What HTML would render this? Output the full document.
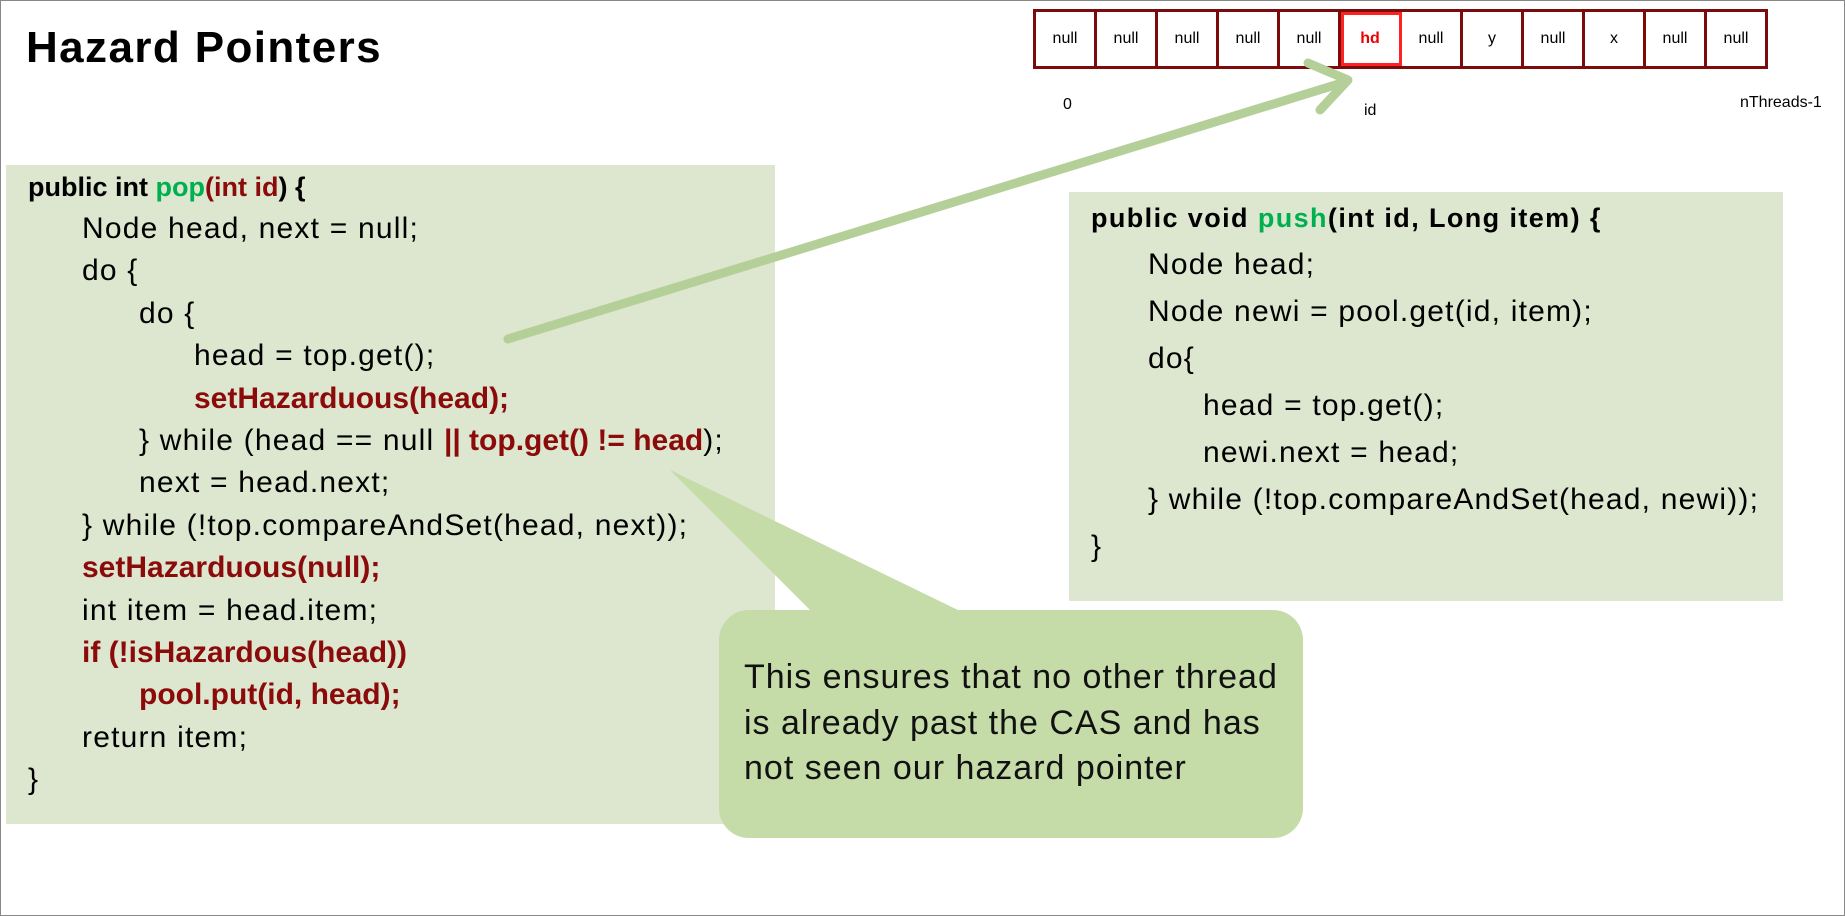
<!DOCTYPE html>
<html><head><style>
body{margin:0;width:1845px;height:916px;position:relative;background:#fff;font-family:"Liberation Sans",sans-serif;overflow:hidden}
.frame{position:absolute;left:0;top:0;width:1843px;height:914px;border:1px solid #888}
.title{position:absolute;left:26px;top:23px;font-size:44px;font-weight:bold;color:#000;letter-spacing:1.4px}
.arr{position:absolute;left:1033px;top:9px;display:flex;border:3px solid #7a0c0c}
.arr div{width:58px;height:54px;border-right:3px solid #7a0c0c;display:flex;align-items:center;justify-content:center;font-size:16px}
.arr div:last-child{border-right:none}
.arr .hd{color:#e00;font-weight:bold;outline:3px solid #f22;outline-offset:-3px}
.lbl{position:absolute;font-size:16px}
.box{position:absolute;background:#dde6cf}
.code{position:absolute;white-space:pre;font-size:30px;letter-spacing:1.2px;color:#000}
.r{color:#8b0b0b;font-weight:bold;letter-spacing:0}
.g{color:#00b050;font-weight:bold;letter-spacing:0}
.b{font-weight:bold;letter-spacing:0}
.hdr{font-size:27px;letter-spacing:0}
.ph span{letter-spacing:1.4px}
.call{position:absolute;left:719px;top:610px;width:584px;height:228px;background:#c5dba8;border-radius:30px}
.ct{position:absolute;left:744px;font-size:34px;letter-spacing:1px;color:#111;white-space:nowrap}
</style></head><body>
<div class="frame"></div>
<div class="title">Hazard Pointers</div>
<div class="arr"><div>null</div><div>null</div><div>null</div><div>null</div><div>null</div><div class="hd">hd</div><div>null</div><div>y</div><div>null</div><div>x</div><div>null</div><div>null</div></div>
<div class="lbl" style="left:1063px;top:96px">0</div>
<div class="lbl" style="left:1364px;top:102px">id</div>
<div class="lbl" style="left:1740px;top:94px">nThreads-1</div>

<div class="box" style="left:6px;top:165px;width:769px;height:659px"></div>
<div class="box" style="left:1069px;top:192px;width:714px;height:409px"></div>

<svg width="1845" height="916" style="position:absolute;left:0;top:0">
<polygon points="670,470 812,612 962,612" fill="#c5dba8"/>
<line x1="508" y1="339" x2="1345" y2="82" stroke="#b5cf98" stroke-width="9" stroke-linecap="round"/>
<polyline points="1308,63 1348,80 1320,110" fill="none" stroke="#b5cf98" stroke-width="9" stroke-linecap="round" stroke-linejoin="round"/>
</svg>
<div class="call"></div>

<div class="code hdr" style="left:28px;top:172px"><span class="b">public int </span><span class="g">pop</span><span class="r">(int id</span><span class="b">) {</span></div>
<div class="code" style="left:82px;top:212px">Node head, next = null;</div>
<div class="code" style="left:82px;top:254px">do {</div>
<div class="code" style="left:139px;top:297px">do {</div>
<div class="code" style="left:194px;top:339px">head = top.get();</div>
<div class="code r" style="left:194px;top:382px">setHazarduous(head);</div>
<div class="code" style="left:139px;top:424px">} while (head == null <span class="r">|| top.get() != head</span>);</div>
<div class="code" style="left:139px;top:466px">next = head.next;</div>
<div class="code" style="left:82px;top:509px">} while (!top.compareAndSet(head, next));</div>
<div class="code r" style="left:82px;top:551px">setHazarduous(null);</div>
<div class="code" style="left:82px;top:594px">int item = head.item;</div>
<div class="code r" style="left:82px;top:636px">if (!isHazardous(head))</div>
<div class="code r" style="left:139px;top:678px">pool.put(id, head);</div>
<div class="code" style="left:82px;top:721px">return item;</div>
<div class="code" style="left:28px;top:763px">}</div>

<div class="code hdr ph" style="left:1091px;top:203px"><span class="b">public void </span><span class="g">push</span><span class="b">(int id, Long item) {</span></div>
<div class="code" style="left:1148px;top:248px">Node head;</div>
<div class="code" style="left:1148px;top:295px">Node newi = pool.get(id, item);</div>
<div class="code" style="left:1148px;top:342px">do{</div>
<div class="code" style="left:1203px;top:389px">head = top.get();</div>
<div class="code" style="left:1203px;top:436px">newi.next = head;</div>
<div class="code" style="left:1148px;top:483px">} while (!top.compareAndSet(head, newi));</div>
<div class="code" style="left:1091px;top:530px">}</div>

<div class="ct" style="top:658px">This ensures that no other thread</div>
<div class="ct" style="top:704px">is already past the CAS and has</div>
<div class="ct" style="top:749px">not seen our hazard pointer</div>
</body></html>
